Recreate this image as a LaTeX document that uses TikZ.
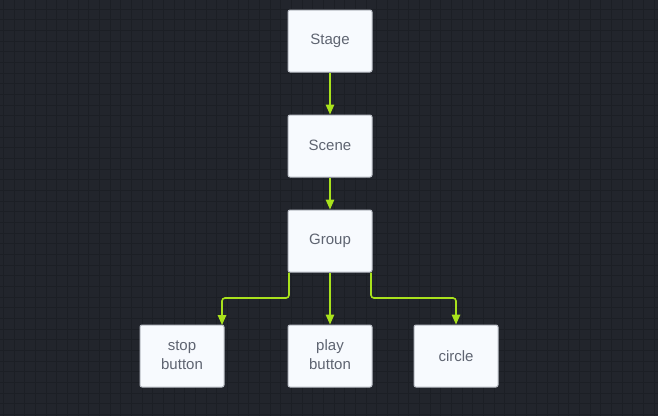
\documentclass[tikz,border=0pt]{standalone}
\usepackage{fontspec}
\setmainfont{Liberation Sans}
\usetikzlibrary{arrows.meta}
\definecolor{bg}{HTML}{22252C}
\definecolor{gridminor}{HTML}{1C1F25}
\definecolor{boxfill}{HTML}{F7FAFE}
\definecolor{boxline}{HTML}{B9BDC5}
\definecolor{txt}{HTML}{5E6471}
\definecolor{lime}{HTML}{A9E21C}
\tikzset{
  box/.style={draw=boxline, fill=boxfill, line width=1pt, rounded corners=2pt,
    minimum width=84pt, minimum height=62pt, inner sep=0pt, text=txt,
    font=\fontsize{15pt}{19pt}\selectfont, align=center},
  conn/.style={draw=lime, line width=1.6pt, rounded corners=3pt,
    -{Triangle[length=10pt,width=8.5pt]}}
}
\begin{document}
\begin{tikzpicture}[x=1pt,y=-1pt]
\fill[bg] (0,0) rectangle (658,416);
\useasboundingbox (0,0) rectangle (658,416);
\foreach \i in {0,...,62} {
  \draw[gridminor, line width=0.8pt] ({3.3+\i*10.667},0) -- ({3.3+\i*10.667},416);
}
\foreach \i in {0,...,40} {
  \draw[gridminor, line width=0.8pt] (0,{9.0+\i*10.667}) -- (658,{9.0+\i*10.667});
}
\node[box] (stage) at (330,41) {Stage};
\node[box] (scene) at (330,146) {\raisebox{1.5pt}{Scene}};
\node[box] (group) at (330,241) {Group};
\node[box] (stop) at (182,356) {\raisebox{1pt}{\begin{tabular}{@{}c@{}}stop\\button\end{tabular}}};
\node[box] (play) at (330,356) {\raisebox{1pt}{\begin{tabular}{@{}c@{}}play\\button\end{tabular}}};
\node[box] (circle) at (456,356) {circle};
\draw[conn] (stage.south) -- (scene.north);
\draw[conn] (scene.south) -- (group.north);
\draw[conn] (group.south) -- (play.north);
\coordinate (gl) at (289,272.5);
\coordinate (gr) at (371,272.5);
\draw[conn] (gl) -- (289,298) -- (222,298) -- (222,325);
\draw[conn] (gr) -- (371,298) -- (456,298) -- (circle.north);
\end{tikzpicture}
\end{document}
